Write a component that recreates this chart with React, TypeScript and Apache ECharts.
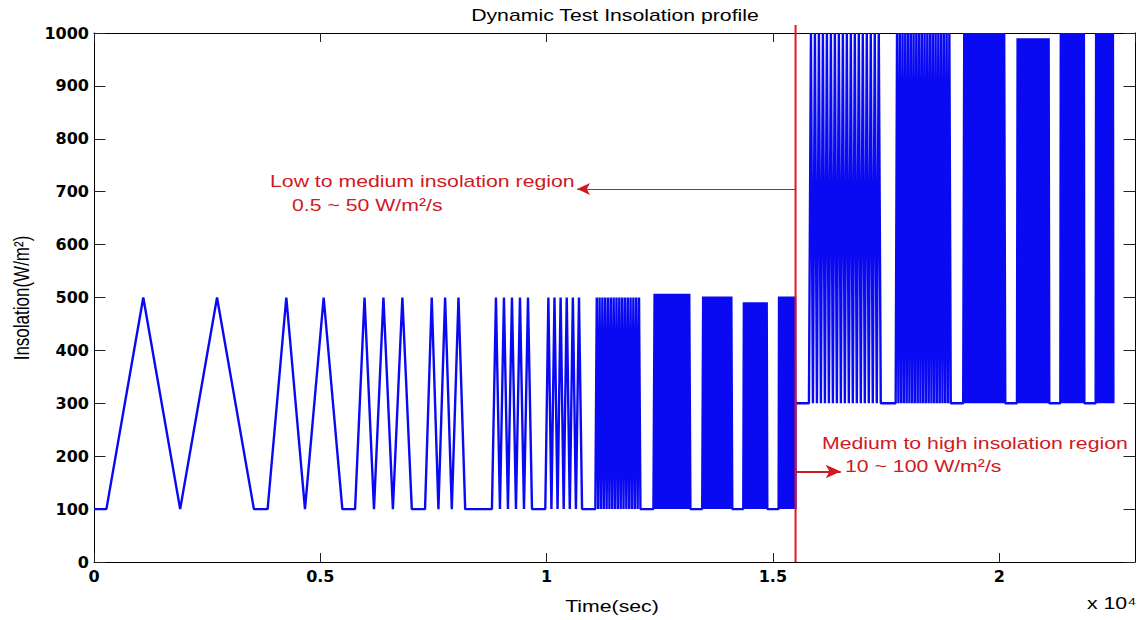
import React, { useEffect, useRef } from "react";
import * as echarts from "echarts";

// ---- Data ----
// Each burst is a triangular ramp train between a low and a high insolation level.
const burstStart = [274, 3836, 5768, 7314, 8792, 9971, 11077, 12360, 13438, 14345, 15126, 15796, 17712, 19204, 20392, 21350, 22131];
const burstEnd = [3533, 5487, 7022, 8201, 9677, 10783, 12073, 13177, 14102, 14876, 15500, 17383, 18929, 20133, 21106, 21881, 22522];
const burstCycles = [2, 2, 3, 3, 5, 6, 16, 16, 16, 20, 20, 18, 20, 20, 25, 25, 20];
const burstLow = [100, 100, 100, 100, 100, 100, 100, 100, 100, 100, 100, 300, 300, 300, 300, 300, 300];
const burstHigh = [500, 500, 500, 500, 500, 500, 500, 507, 502, 491, 502, 1000, 1000, 1000, 990, 1000, 1000];
const profileStartPoint = [0, 100];

const regionSplitTime = 15500;
const arrowLeft = [15500, 10673, 705]; // from x, to x, y
const arrowRight = [15500, 16498, 171];

const xTickLabels = ["0", "0.5", "1", "1.5", "2"];
const xTickValues = [0, 5000, 10000, 15000, 20000];

function buildProfile(): number[][] {
  const pts: number[][] = [profileStartPoint.slice()];
  for (let i = 0; i < burstStart.length; i++) {
    const last = pts[pts.length - 1];
    if (last[1] !== burstLow[i]) pts.push([last[0], burstLow[i]]);
    const period = (burstEnd[i] - burstStart[i]) / burstCycles[i];
    for (let k = 0; k < burstCycles[i]; k++) {
      const t0 = burstStart[i] + k * period;
      pts.push([t0, burstLow[i]]);
      pts.push([t0 + period / 2, burstHigh[i]]);
    }
    pts.push([burstEnd[i], burstLow[i]]);
  }
  return pts;
}

export default function App() {
  const ref = useRef<HTMLDivElement>(null);
  useEffect(() => {
    document.body.style.margin = "0";
    if (!ref.current) return;
    const chart = echarts.init(ref.current, undefined, { renderer: "svg" });
    const red = "#d01a22";
    const font = "'Liberation Sans', Arial, sans-serif";
    const txt = (o: any) => ({
      type: "text",
      silent: true,
      ...o,
      style: {
        fontFamily: font,
        fontSize: 17,
        fill: "#000",
        ...o.style,
      },
    });
    const axisLabelStyle = {
      fontFamily: "'DejaVu Sans', sans-serif",
      fontWeight: "bold" as const,
      fontSize: 16,
      color: "#000",
    };
    const axisLine = { show: true, onZero: false, lineStyle: { color: "#000", width: 1 } };
    chart.setOption({
      animation: false,
      backgroundColor: "#fff",
      grid: { left: 94, top: 33, width: 1041, height: 529, show: false },
      xAxis: [
        {
          type: "value",
          min: 0,
          max: 23000,
          interval: 5000,
          position: "bottom",
          axisLine,
          axisTick: { show: true, inside: true, length: 9, lineStyle: { color: "#222" } },
          splitLine: { show: false },
          axisLabel: {
            ...axisLabelStyle,
            margin: 6,
            showMaxLabel: false,
            formatter: (v: number) => {
              const idx = xTickValues.indexOf(v);
              return idx >= 0 ? xTickLabels[idx] : "";
            },
          },
        },
        {
          type: "value",
          min: 0,
          max: 23000,
          interval: 5000,
          position: "top",
          axisLine,
          axisTick: { show: true, inside: true, length: 9, lineStyle: { color: "#222" } },
          splitLine: { show: false },
          axisLabel: { show: false },
        },
      ],
      yAxis: [
        {
          type: "value",
          min: 0,
          max: 1000,
          interval: 100,
          position: "left",
          axisLine,
          axisTick: { show: true, inside: true, length: 11.5, lineStyle: { color: "#222" } },
          splitLine: { show: false },
          axisLabel: { ...axisLabelStyle, margin: 5, formatter: (v: number) => String(v) },
        },
        {
          type: "value",
          min: 0,
          max: 1000,
          interval: 100,
          position: "right",
          axisLine,
          axisTick: { show: true, inside: true, length: 11.5, lineStyle: { color: "#222" } },
          splitLine: { show: false },
          axisLabel: { show: false },
        },
      ],
      series: [
        {
          type: "line",
          xAxisIndex: 0,
          yAxisIndex: 0,
          data: buildProfile(),
          symbol: "none",
          showSymbol: false,
          lineStyle: { color: "#0a0af2", width: 2.4 },
          itemStyle: { color: "#0a0af2" },
          z: 2,
        },
        {
          type: "line",
          xAxisIndex: 0,
          yAxisIndex: 0,
          data: [
            [regionSplitTime, 0],
            [regionSplitTime, 1015],
          ],
          clip: false,
          symbol: "none",
          showSymbol: false,
          lineStyle: { color: "#e8141c", width: 2 },
          z: 4,
          markLine: {
            silent: true,
            animation: false,
            label: { show: false },
            lineStyle: { type: "solid", color: red },
            data: [
              [
                { coord: [arrowLeft[0], arrowLeft[2]], symbol: "none", lineStyle: { width: 1, color: red, type: "solid" } },
                { coord: [arrowLeft[1], arrowLeft[2]], symbol: "arrow", symbolSize: [9, 13] },
              ],
              [
                { coord: [arrowRight[0], arrowRight[2]], symbol: "none", lineStyle: { width: 2, color: red, type: "solid" } },
                { coord: [arrowRight[1], arrowRight[2]], symbol: "arrow", symbolSize: [10, 15] },
              ],
            ],
          },
        },
      ],
      graphic: [
        txt({ x: 615, y: 15, scaleX: 1.25, style: { text: "Dynamic Test Insolation profile", align: "center", verticalAlign: "middle", textAlign: "center", textVerticalAlign: "middle" } }),
        txt({ x: 612, y: 606, scaleX: 1.25, style: { text: "Time(sec)", align: "center", verticalAlign: "middle", textAlign: "center", textVerticalAlign: "middle" } }),
        txt({ x: 1087, y: 603, scaleX: 1.25, style: { text: "x 10\u2074", align: "left", verticalAlign: "middle", textAlign: "left", textVerticalAlign: "middle" } }),
        txt({ x: 22, y: 298, rotation: Math.PI / 2, scaleY: 1.25, style: { text: "Insolation(W/m\u00b2)", align: "center", verticalAlign: "middle", textAlign: "center", textVerticalAlign: "middle" } }),
        txt({ x: 270, y: 181, scaleX: 1.25, style: { text: "Low to medium insolation region", fill: red, align: "left", verticalAlign: "middle", textAlign: "left", textVerticalAlign: "middle" } }),
        txt({ x: 292, y: 205, scaleX: 1.25, style: { text: "0.5 ~ 50 W/m\u00b2/s", fill: red, align: "left", verticalAlign: "middle", textAlign: "left", textVerticalAlign: "middle" } }),
        txt({ x: 822, y: 443, scaleX: 1.25, style: { text: "Medium to high insolation region", fill: red, align: "left", verticalAlign: "middle", textAlign: "left", textVerticalAlign: "middle" } }),
        txt({ x: 845, y: 466, scaleX: 1.25, style: { text: "10 ~ 100 W/m\u00b2/s", fill: red, align: "left", verticalAlign: "middle", textAlign: "left", textVerticalAlign: "middle" } }),
      ],
    });
    return () => chart.dispose();
  }, []);
  return <div ref={ref} style={{ width: 1140, height: 620 }} />;
}
